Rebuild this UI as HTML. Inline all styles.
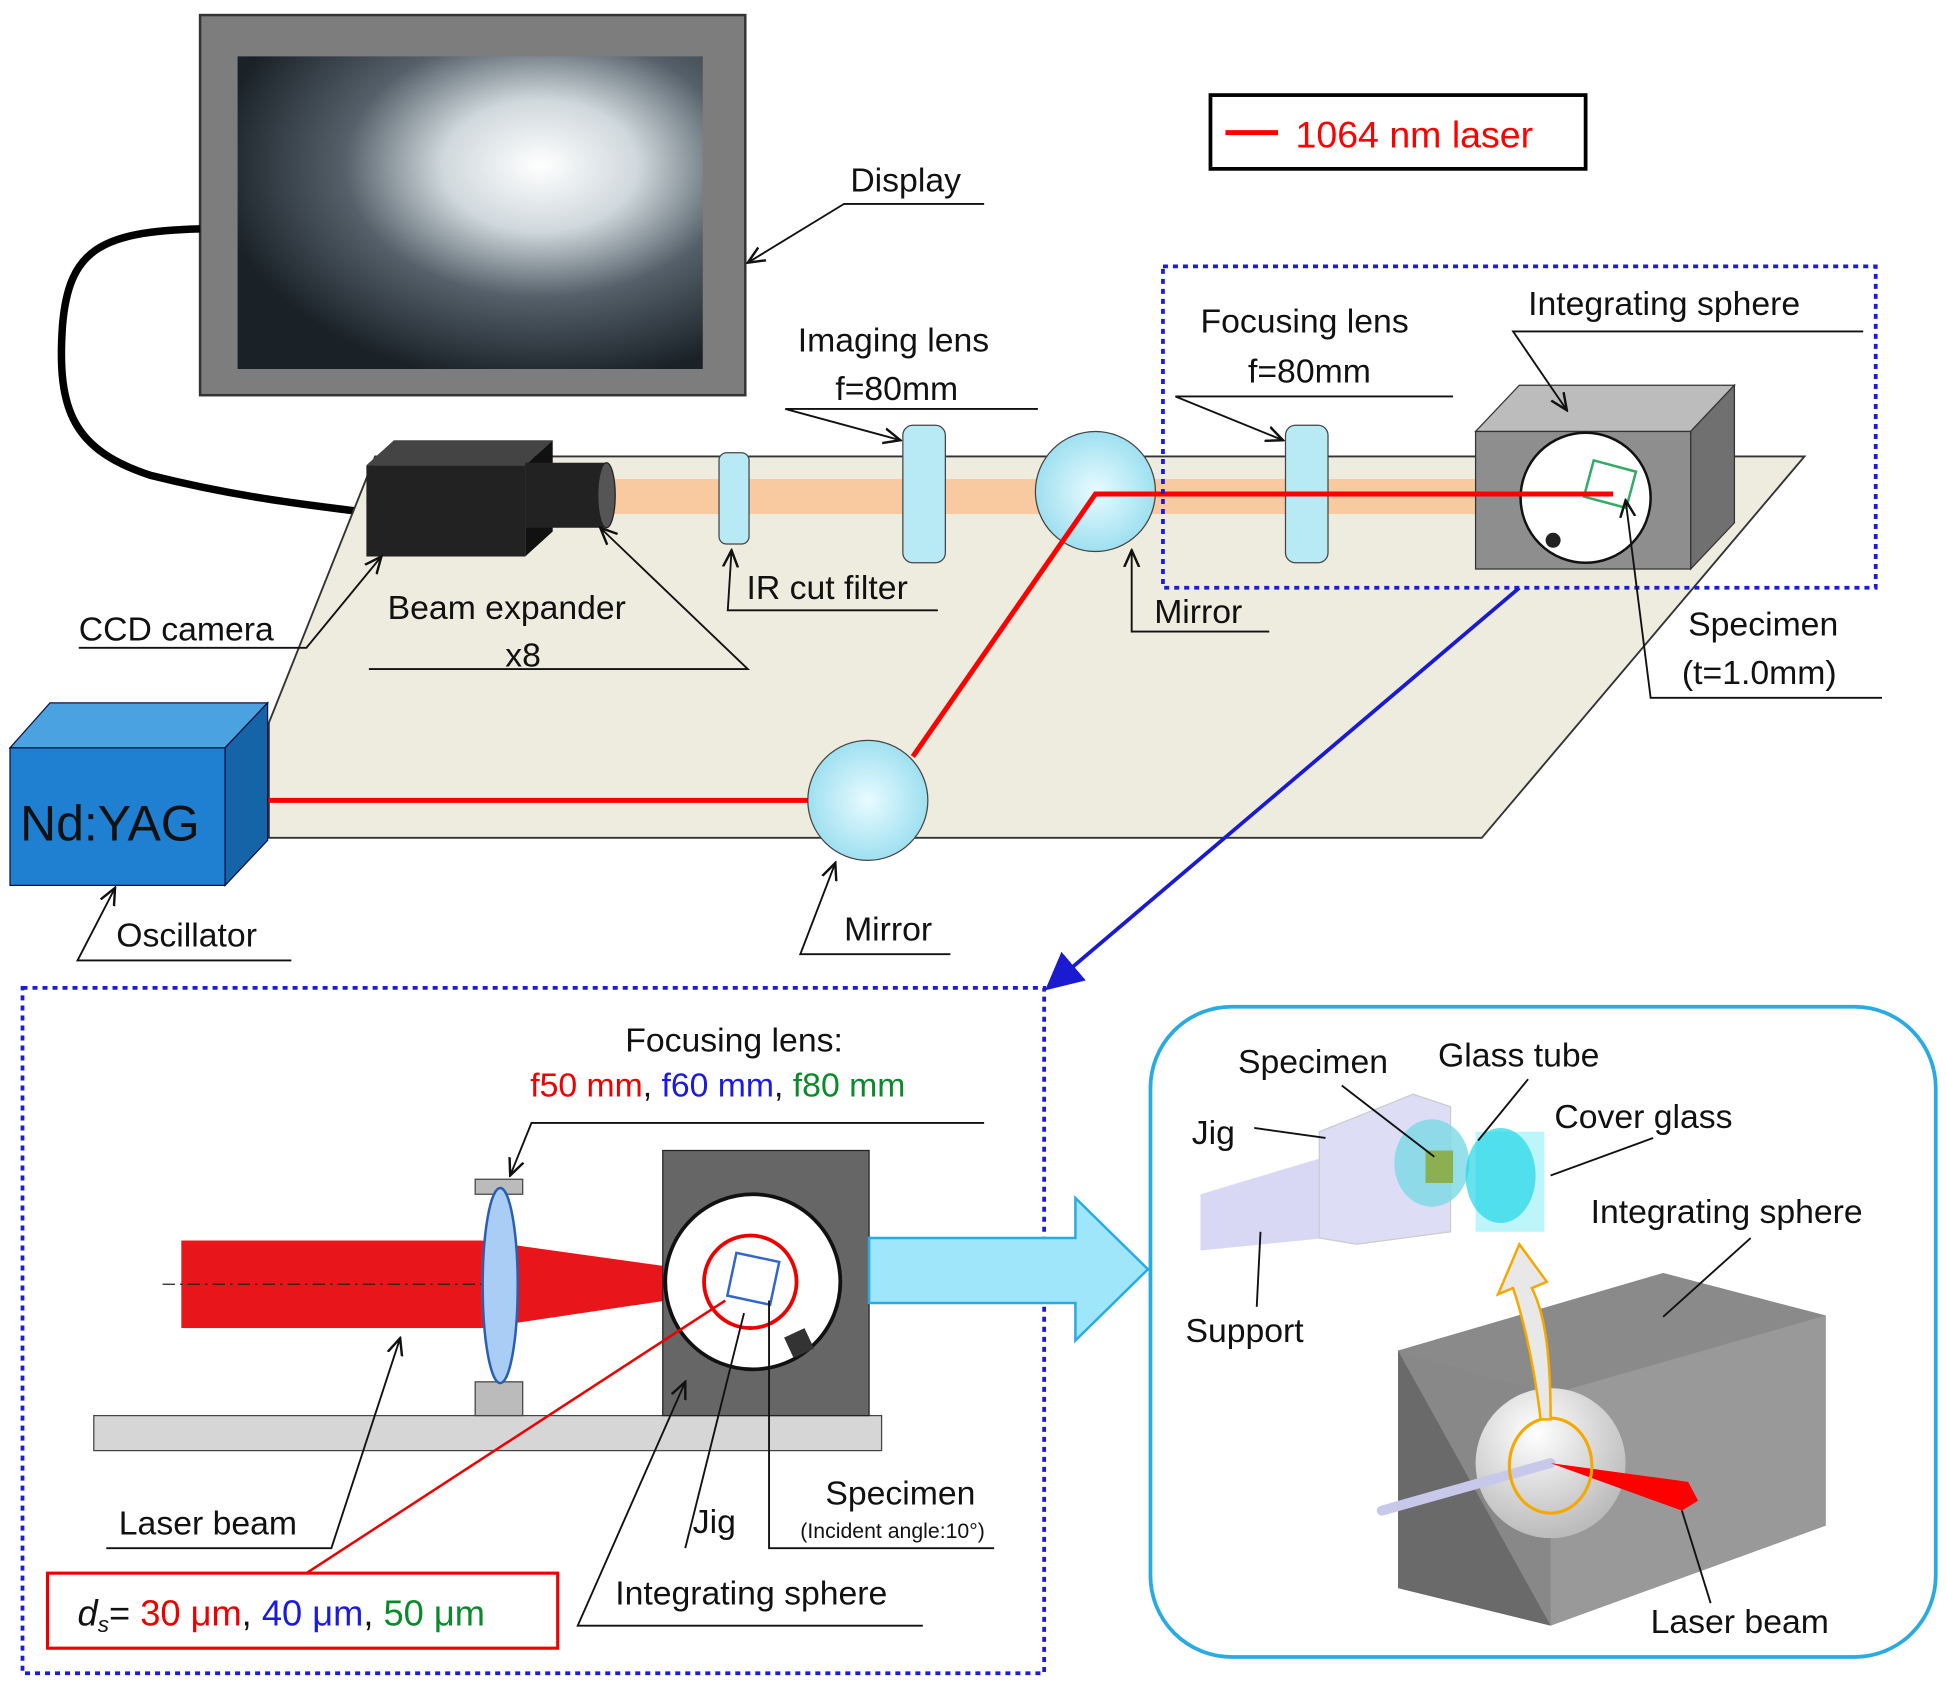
<!DOCTYPE html>
<html><head><meta charset="utf-8"><style>
html,body{margin:0;padding:0;background:#fff}
svg{display:block}
text{font-family:"Liberation Sans",sans-serif;fill:#111}
</style></head><body>
<svg width="1947" height="1682" viewBox="0 0 1557 1345" xmlns="http://www.w3.org/2000/svg">
<defs>
<radialGradient id="scr" cx="0.65" cy="0.35" r="0.7"><stop offset="0" stop-color="#fff"/><stop offset="0.3" stop-color="#cfd8dc"/><stop offset="0.6" stop-color="#55606a"/><stop offset="1" stop-color="#1a2228"/></radialGradient>
<radialGradient id="mir" cx="0.5" cy="0.5" r="0.5"><stop offset="0" stop-color="#e8fbff"/><stop offset="1" stop-color="#9fe0f0"/></radialGradient>
<radialGradient id="sph" cx="0.4" cy="0.3" r="0.7"><stop offset="0" stop-color="#fff"/><stop offset="1" stop-color="#bbb"/></radialGradient>
<marker id="ah" markerWidth="10" markerHeight="10" refX="9" refY="5" orient="auto"><path d="M0,1 L9,5 L0,9" fill="none" stroke="#111" stroke-width="1.3"/></marker>
<marker id="ahb" markerWidth="10" markerHeight="10" refX="9" refY="5" orient="auto"><path d="M0,0 L10,5 L0,10 z" fill="#1a1ad0"/></marker>
</defs>
<!-- display -->
<rect x="160" y="12" width="436" height="304" fill="#7d7d7d" stroke="#333" stroke-width="2"/>
<path d="M190,45 L562,45 L562,295 L190,295 Z" fill="url(#scr)"/>
<path d="M160,183 C80,185 55,200 50,260 C45,330 60,360 120,380 C200,400 260,405 295,410" fill="none" stroke="#000" stroke-width="6"/>
<!-- table -->
<polygon points="300,365 1443,365 1185,670 215,670 215,578" fill="#eeebdf" stroke="#333" stroke-width="1.5"/>
<rect x="490" y="383" width="690" height="28" fill="#f9c9a0"/>
<!-- CCD camera -->
<polygon points="293,372 315,352 442,352 420,372" fill="#444"/>
<polygon points="420,372 442,352 442,425 420,445" fill="#111"/>
<rect x="293" y="372" width="127" height="73" fill="#222"/>
<rect x="420" y="370" width="65" height="52" fill="#222"/>
<ellipse cx="485" cy="396" rx="7" ry="26" fill="#555" stroke="#222"/>
<!-- lenses -->
<rect x="575" y="362" width="24" height="73" rx="6" fill="#b8eaf5" stroke="#444"/>
<rect x="722" y="340" width="34" height="110" rx="8" fill="#b8eaf5" stroke="#444"/>
<rect x="1028" y="340" width="34" height="110" rx="8" fill="#b8eaf5" stroke="#444"/>
<circle cx="876" cy="393" r="48" fill="url(#mir)" stroke="#444"/>
<!-- integrating sphere box top -->
<polygon points="1180,345 1215,308 1387,308 1352,345" fill="#bcbcbc" stroke="#333"/>
<polygon points="1352,345 1387,308 1387,418 1352,455" fill="#707070" stroke="#333"/>
<rect x="1180" y="345" width="172" height="110" fill="#8e8e8e" stroke="#333"/>
<circle cx="1268" cy="398" r="52" fill="#fff" stroke="#111" stroke-width="2"/>
<circle cx="1242" cy="432" r="6" fill="#222"/>
<rect x="1270" y="372" width="35" height="30" fill="none" stroke="#3a6" stroke-width="2" transform="rotate(15 1287 387)"/>
<!-- lasers -->
<polyline points="200,640 650,640" stroke="#f00" stroke-width="4" fill="none"/>
<polyline points="730,605 876,395 1290,395" stroke="#f00" stroke-width="4" fill="none"/>
<circle cx="694" cy="640" r="48" fill="url(#mir)" stroke="#444"/>
<!-- Nd:YAG -->
<polygon points="8,598 40,562 214,562 180,598" fill="#4aa3e0" stroke="#114"/>
<polygon points="180,598 214,562 214,672 180,708" fill="#1664a8" stroke="#114"/>
<rect x="8" y="598" width="172" height="110" fill="#1f7fd0" stroke="#114"/>
<text x="16" y="672" font-size="40">Nd:YAG</text>
<!-- legend -->
<rect x="968" y="76" width="300" height="59" fill="#fff" stroke="#000" stroke-width="3"/>
<line x1="980" y1="106" x2="1022" y2="106" stroke="#f00" stroke-width="4"/>
<text x="1036" y="118" font-size="30" style="fill:#f00">1064 nm laser</text>
<!-- dotted boxes -->
<rect x="930" y="213" width="570" height="257" fill="none" stroke="#1a1ae0" stroke-width="3" stroke-dasharray="4,4"/>
<line x1="1215" y1="470" x2="838" y2="790" stroke="#1a1ad0" stroke-width="3" marker-end="url(#ahb)"/>
<rect x="18" y="790" width="817" height="548" fill="none" stroke="#1a1ae0" stroke-width="3" stroke-dasharray="4,4"/>
<!-- top labels -->
<g font-size="27">
<text x="680" y="153">Display</text>
<text x="638" y="281">Imaging lens</text><text x="668" y="320">f=80mm</text>
<text x="960" y="266">Focusing lens</text><text x="998" y="306">f=80mm</text>
<text x="1222" y="252">Integrating sphere</text>
<text x="310" y="495">Beam expander</text><text x="404" y="533">x8</text>
<text x="597" y="479">IR cut filter</text>
<text x="923" y="498">Mirror</text>
<text x="63" y="512">CCD camera</text>
<text x="1350" y="508">Specimen</text><text x="1345" y="547">(t=1.0mm)</text>
<text x="93" y="757">Oscillator</text>
<text x="675" y="752">Mirror</text>
</g>
<g stroke="#111" stroke-width="1.5" fill="none">
<polyline points="787,163 675,163 598,210" marker-end="url(#ah)"/>
<polyline points="830,327 628,327 720,352" marker-end="url(#ah)"/>
<polyline points="1162,317 940,317 1026,352" marker-end="url(#ah)"/>
<polyline points="1490,265 1210,265 1253,328" marker-end="url(#ah)"/>
<polyline points="295,535 598,535 480,422" marker-end="url(#ah)"/>
<polyline points="750,488 582,488 585,440" marker-end="url(#ah)"/>
<polyline points="1015,505 905,505 905,440" marker-end="url(#ah)"/>
<polyline points="63,518 245,518 305,445" marker-end="url(#ah)"/>
<polyline points="1505,558 1320,558 1300,400" marker-end="url(#ah)"/>
<polyline points="233,768 62,768 92,710" marker-end="url(#ah)"/>
<polyline points="760,763 640,763 668,690" marker-end="url(#ah)"/>
</g>
<!-- bottom-left -->
<rect x="75" y="1132" width="630" height="28" fill="#d6d6d6" stroke="#444"/>
<rect x="145" y="992" width="240" height="70" fill="#e8161a"/>
<polygon points="385,992 600,1022 600,1030 385,1062" fill="#e8161a"/>
<line x1="130" y1="1027" x2="385" y2="1027" stroke="#222" stroke-dasharray="10,4,2,4"/>
<rect x="380" y="943" width="38" height="12" fill="#bbb" stroke="#444"/>
<rect x="380" y="1105" width="38" height="27" fill="#bbb" stroke="#444"/>
<ellipse cx="400" cy="1028" rx="14" ry="78" fill="#a9cdf5" stroke="#2a5fb0" stroke-width="2"/>
<rect x="530" y="920" width="165" height="212" fill="#666" stroke="#222"/>
<circle cx="602" cy="1025" r="70" fill="#fff" stroke="#111" stroke-width="3"/>
<circle cx="600" cy="1025" r="37" fill="none" stroke="#e00" stroke-width="3"/>
<rect x="585" y="1005" width="35" height="35" fill="none" stroke="#36c" stroke-width="2" transform="rotate(12 602 1022)"/>
<rect x="630" y="1065" width="18" height="18" fill="#333" transform="rotate(-25 639 1074)"/>
<polygon points="695,990 860,990 860,958 918,1015 860,1072 860,1042 695,1042" fill="#9fe6fa" stroke="#29abe2" stroke-width="2"/>
<text x="500" y="841" font-size="27">Focusing lens:</text>
<text x="424" y="877" font-size="27"><tspan style="fill:#e00">f50 mm</tspan>, <tspan style="fill:#1a1ae0">f60 mm</tspan>, <tspan style="fill:#0a8a2a">f80 mm</tspan></text>
<polyline points="787,898 425,898 408,940" fill="none" stroke="#111" stroke-width="1.5" marker-end="url(#ah)"/>
<g font-size="27">
<text x="95" y="1227">Laser beam</text>
<text x="554" y="1226">Jig</text>
<text x="660" y="1203">Specimen</text>
<text x="640" y="1230" font-size="17">(Incident angle:10°)</text>
<text x="492" y="1283">Integrating sphere</text>
</g>
<g stroke="#111" stroke-width="1.5" fill="none">
<polyline points="85,1238 265,1238 320,1070" marker-end="url(#ah)"/>
<polyline points="548,1238 595,1050"/>
<polyline points="795,1238 615,1238 615,1040"/>
<polyline points="738,1300 462,1300 548,1105" marker-end="url(#ah)"/>
</g>
<rect x="38" y="1258" width="408" height="60" fill="#fff" stroke="#e00" stroke-width="2.5"/>
<line x1="245" y1="1258" x2="580" y2="1040" stroke="#e00" stroke-width="2"/>
<text x="62" y="1300" font-size="29"><tspan font-style="italic">d</tspan><tspan font-size="18" font-style="italic" dy="5">s</tspan><tspan dy="-5">= </tspan><tspan style="fill:#e00">30 μm</tspan>, <tspan style="fill:#1a1ae0">40 μm</tspan>, <tspan style="fill:#0a8a2a">50 μm</tspan></text>
<!-- bottom-right -->
<rect x="920" y="805" width="628" height="520" rx="65" fill="#fff" stroke="#29abe2" stroke-width="3"/>
<polygon points="1118,1080 1330,1018 1460,1052 1460,1220 1240,1300 1118,1270" fill="#888"/>
<polygon points="1118,1080 1330,1018 1460,1052 1240,1115" fill="#8a8a8a"/>
<polygon points="1118,1080 1240,1300 1118,1270" fill="#6a6a6a"/>
<polygon points="1240,1115 1460,1052 1460,1220 1240,1300" fill="#999"/>
<circle cx="1240" cy="1170" r="60" fill="url(#sph)"/>
<line x1="1105" y1="1208" x2="1240" y2="1170" stroke="#c8c8ea" stroke-width="8" stroke-linecap="round"/>
<polygon points="1240,1170 1350,1185 1358,1200 1345,1208" fill="#f00"/>
<ellipse cx="1240" cy="1172" rx="33" ry="38" fill="none" stroke="#f5a800" stroke-width="2.5"/>
<path d="M1240,1135 C1240,1080 1235,1050 1225,1030 L1237,1025 L1215,995 L1198,1035 L1210,1030 C1220,1060 1228,1100 1232,1135 Z" fill="#e8e8e8" stroke="#f5a800" stroke-width="2"/>
<polygon points="960,955 1060,925 1060,990 960,1000" fill="#d8d8f4"/>
<polygon points="1055,905 1130,875 1160,885 1160,985 1085,995 1055,990" fill="#ddddf6" stroke="#ccc"/>
<ellipse cx="1145" cy="930" rx="30" ry="35" fill="#7ad9e6" opacity="0.8"/>
<rect x="1140" y="920" width="22" height="26" fill="#8cb050"/>
<rect x="1180" y="905" width="55" height="80" fill="#9ff2f8" opacity="0.7"/>
<ellipse cx="1200" cy="940" rx="28" ry="38" fill="#22d6e6" opacity="0.7"/>
<g font-size="27">
<text x="990" y="858">Specimen</text>
<text x="1150" y="853">Glass tube</text>
<text x="1243" y="902">Cover glass</text>
<text x="953" y="915">Jig</text>
<text x="1272" y="978">Integrating sphere</text>
<text x="948" y="1073">Support</text>
<text x="1320" y="1306">Laser beam</text>
</g>
<g stroke="#111" stroke-width="1.5" fill="none">
<line x1="1073" y1="868" x2="1147" y2="925"/>
<line x1="1222" y1="863" x2="1182" y2="912"/>
<line x1="1322" y1="910" x2="1240" y2="940"/>
<line x1="1003" y1="902" x2="1060" y2="910"/>
<line x1="1400" y1="990" x2="1330" y2="1053"/>
<line x1="1005" y1="1045" x2="1008" y2="985"/>
<line x1="1368" y1="1282" x2="1345" y2="1208"/>
</g>
</svg>
</body></html>
